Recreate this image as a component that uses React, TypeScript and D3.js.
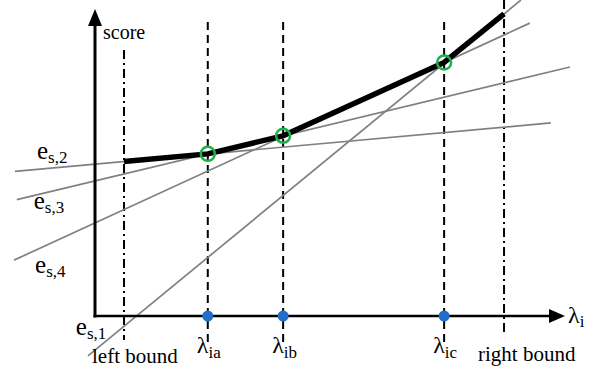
import React from "react";
import * as d3 from "d3";

const W = 596;
const H = 369;

// critical λ positions (data units)
const leftBound = 0.62;
const rightBound = 8.74;
const lambdaNames = ["ia", "ib", "ic"];
const lambdaValues = [2.41, 4.02, 7.46];

// score lines e_s,k given by two points [x0, y0, x1, y1] in data units
const lineNames = ["1", "2", "3", "4"];
const lineStarts = [
  [-0.15, -1.3],
  [-1.71, 4.71],
  [-1.67, 3.79],
  [-1.73, 1.82],
];
const lineEnds = [
  [9.1, 10.29],
  [9.74, 6.29],
  [10.15, 8.11],
  [9.29, 9.54],
];

// label anchor positions for e_s,k (data units)
const lineLabelPos = [
  [-0.41, -0.62],
  [-1.24, 5.11],
  [-1.31, 3.5],
  [-1.28, 1.41],
];

const FONT = "'Liberation Serif', 'Times New Roman', 'DejaVu Serif', serif";

export default function App() {
  const x = d3.scaleLinear().domain([0, 10]).range([95, 563]);
  const y = d3.scaleLinear().domain([0, 10]).range([316, 9]);

  const fns = lineStarts.map((s, i) => {
    const e = lineEnds[i];
    const m = (e[1] - s[1]) / (e[0] - s[0]);
    return (v: number) => s[1] + m * (v - s[0]);
  });
  const envelope = (v: number) => d3.max(fns, (f) => f(v)) as number;
  const breaks = [leftBound, ...lambdaValues, rightBound];
  const envLine = d3
    .line<number>()
    .x((v) => x(v))
    .y((v) => y(envelope(v)));

  const x0 = x(0);
  const y0 = y(0);
  const tStyle = { fontFamily: FONT };

  return (
    <svg width={W} height={H} style={{ position: "absolute", left: 0, top: 0 }}>
      <rect width={W} height={H} fill="#fff" />
      {/* bound lines */}
      <line x1={x(leftBound)} x2={x(leftBound)} y1={50} y2={340} stroke="#000" strokeWidth={2} strokeDasharray="9,4,2,4" />
      <line x1={x(rightBound)} x2={x(rightBound)} y1={0} y2={333} stroke="#000" strokeWidth={2} strokeDasharray="9,4,2,4" />
      {/* λ dashed lines */}
      {lambdaValues.map((v, i) => (
        <line key={i} x1={x(v)} x2={x(v)} y1={22} y2={343} stroke="#000" strokeWidth={2} strokeDasharray="8,5" />
      ))}
      {/* gray score lines */}
      {lineStarts.map((s, i) => (
        <line key={i} x1={x(s[0])} y1={y(s[1])} x2={x(lineEnds[i][0])} y2={y(lineEnds[i][1])} stroke="#808080" strokeWidth={1.7} />
      ))}
      {/* axes */}
      <line x1={x0} x2={x0} y1={y0 + 1.5} y2={24} stroke="#000" strokeWidth={3} />
      <path d={`M${x0 - 7},26 L${x0},9 L${x0 + 7},26 Z`} fill="#000" />
      <line x1={x0 - 1.5} x2={550} y1={y0} y2={y0} stroke="#000" strokeWidth={2.5} />
      <path d={`M549,${y0 - 7} L565,${y0} L549,${y0 + 7} Z`} fill="#000" />
      {/* envelope */}
      <path d={envLine(breaks) || ""} fill="none" stroke="#000" strokeWidth={5.5} strokeLinejoin="round" />
      {/* markers */}
      {lambdaValues.map((v, i) => (
        <g key={i}>
          <circle cx={x(v)} cy={y(envelope(v))} r={7} fill="none" stroke="#1db04b" strokeWidth={2.5} />
          <circle cx={x(v)} cy={y0} r={5.5} fill="#1f6fc8" />
        </g>
      ))}
      {/* texts */}
      <g fill="#000">
        <text x={103} y={39} fontSize={20} style={tStyle}>score</text>
        {lineNames.map((n, i) => (
          <text key={n} x={x(lineLabelPos[i][0])} y={y(lineLabelPos[i][1])} fontSize={25} style={tStyle}>
            e<tspan fontSize={17} dy={4}>{`s,${n}`}</tspan>
          </text>
        ))}
        <text x={92} y={363} fontSize={21} style={tStyle}>left bound</text>
        <text x={478} y={361} fontSize={21} style={tStyle}>right bound</text>
        {lambdaValues.map((v, i) => (
          <text key={i} x={x(v) - 11} y={353} fontSize={24} style={tStyle}>
            λ<tspan fontSize={17} dy={5}>{lambdaNames[i]}</tspan>
          </text>
        ))}
        <text x={568} y={323} fontSize={24} style={tStyle}>
          λ<tspan fontSize={17} dy={4}>i</tspan>
        </text>
      </g>
    </svg>
  );
}
